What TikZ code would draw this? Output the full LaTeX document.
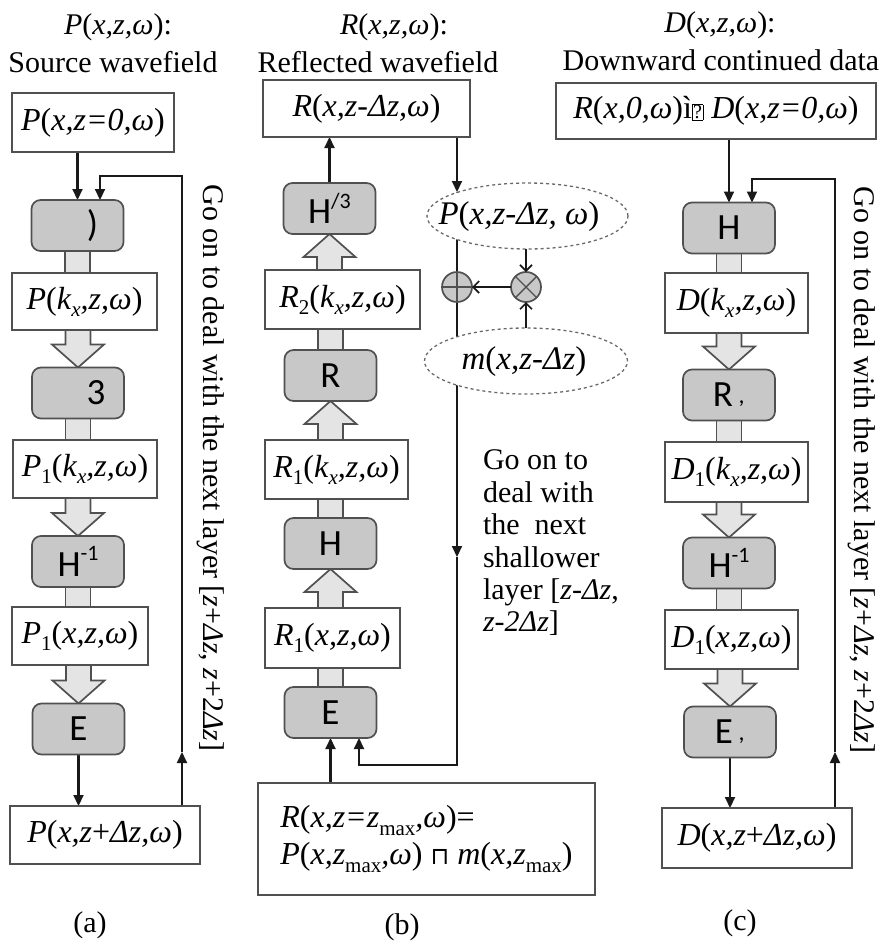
\documentclass[tikz,border=0pt]{standalone}
\usepackage{fontspec}
\setmainfont{Liberation Serif}
\newfontfamily\carl{Carlito}
\newfontfamily\dejavu{DejaVu Sans}
\usetikzlibrary{calc,arrows.meta,shapes.geometric}
\definecolor{boxc}{RGB}{80,80,80}
\definecolor{grayfill}{RGB}{200,200,200}
\definecolor{connfill}{RGB}{228,228,228}
\definecolor{linec}{RGB}{25,25,25}
\definecolor{dashc}{RGB}{105,105,105}
\pgfdeclarelayer{background}
\pgfsetlayers{background,main}
\newcommand\mi[1]{\textit{#1}}
\newcommand\sbi[1]{\raisebox{-0.22em}{\fontsize{21}{21}\selectfont\itshape #1}}
\newcommand\sbr[1]{\raisebox{-0.22em}{\fontsize{21}{21}\selectfont #1}}
\newcommand\spr[1]{\raisebox{0.42em}{\fontsize{22}{22}\selectfont #1}}
\newcommand\wdown[2]{\draw[wide] let \p1=(#1), \p2=(#2) in (\x2-12.5pt,\y1) -- (\x2-12.5pt,\y2+23pt) -- (\x2-26pt,\y2+23pt) -- (\x2,\y2) -- (\x2+26pt,\y2+23pt) -- (\x2+12.5pt,\y2+23pt) -- (\x2+12.5pt,\y1);}
\newcommand\wup[2]{\draw[wide] let \p1=(#1), \p2=(#2) in (\x2-12.5pt,\y1) -- (\x2-12.5pt,\y2-23pt) -- (\x2-26pt,\y2-23pt) -- (\x2,\y2) -- (\x2+26pt,\y2-23pt) -- (\x2+12.5pt,\y2-23pt) -- (\x2+12.5pt,\y1);}
\newcommand\wconn[2]{\draw[wide] let \p1=(#1), \p2=(#2) in (\x1-12.5pt,\y1) rectangle (\x1+12.5pt,\y2);}
\begin{document}
\begin{tikzpicture}[x=1pt,y=-1pt,
 every node/.style={inner sep=0pt, outer sep=0pt},
 ttl/.style={font=\fontsize{30}{36}\selectfont},
 tbox/.style={draw=boxc, line width=1.7pt, fill=white, font=\fontsize{32}{38}\selectfont},
 gbox/.style={draw=boxc, line width=1.7pt, fill=grayfill, rounded corners=9pt, minimum width=92pt, minimum height=51pt, font=\carl\fontsize{37}{40}\selectfont},
 arr/.style={draw=linec, line width=2.1pt, -{Triangle[length=11pt,width=10pt]}},
 wide/.style={draw=boxc, line width=1.7pt, fill=connfill},
 oarr/.style={draw=linec, line width=1.7pt, -{Straight Barb[length=6pt,width=12pt]}},
 ell/.style={ellipse, draw=dashc, dashed, line width=1.3pt, fill=white},
 sumc/.style={circle, draw=boxc, fill=grayfill, line width=1.7pt, minimum size=30pt},
 etxt/.style={font=\fontsize{33}{38}\selectfont},
 ]
\useasboundingbox (0,0) rectangle (880,946);
% ---------- titles
\node[ttl] (ta1) at (118,27) {\mi{P}(\mi{x,z,ω}):};
\node[ttl] (ta2) at (113,62) {Source wavefield};
\node[ttl] (tb1) at (394,27) {\mi{R}(\mi{x,z,ω}):};
\node[ttl] (tb2) at (378,62) {Reflected wavefield};
\node[ttl] (tc1) at (720,25) {\mi{D}(\mi{x,z,ω}):};
\node[ttl] (tc2) at (721,60) {Downward continued data};
% ---------- column a
\node[tbox, minimum width=162pt, minimum height=59pt] (a0) at (93,122.5) {\mi{P}(\mi{x,z=0,ω})};
\node[gbox] (ga1) at (77.5,225.5) {\hspace*{30pt})};
\node[tbox, minimum width=145pt, minimum height=57pt] (a1) at (84.5,301.5) {\mi{P}(\mi{k}\sbi{x}\mi{,z,ω})};
\node[gbox] (ga2) at (78,393) {\hspace*{36pt}3};
\node[tbox, minimum width=144pt, minimum height=58pt] (a2) at (85,469) {\mi{P}\sbr{1}(\mi{k}\sbi{x}\mi{,z,ω})};
\node[gbox] (ga3) at (78,561.5) {H\spr{-1}};
\node[tbox, minimum width=136pt, minimum height=58pt] (a3) at (80,636) {\mi{P}\sbr{1}(\mi{x,z,ω})};
\node[gbox] (ga4) at (78.5,729) {E};
\node[tbox, minimum width=190pt, minimum height=58pt] (a4) at (105,835) {\mi{P}(\mi{x,z}+\mi{Δz,ω})};
\coordinate (fa) at (182,176);
\coordinate (fam) at (182,752);
\node[ttl, rotate=-90] (ra) at (211,468) {Go on to deal with the next layer [\mi{z}+\mi{Δz}, \mi{z}+2\mi{Δz}]};
\node[ttl] (la) at (90,925) {(a)};
% ---------- column b
\node[tbox, minimum width=207pt, minimum height=57pt] (bt) at (366.5,108.5) {\mi{R}(\mi{x,z-Δz,ω})};
\node[gbox] (gb1) at (329.5,208.5) {H\spr{\carl/3}};
\node[tbox, minimum width=155pt, minimum height=59pt] (b2) at (342.5,299.5) {\mi{R}\sbr{2}(\mi{k}\sbi{x}\mi{,z,ω})};
\node[gbox] (gb2) at (330.5,375.5) {R};
\node[tbox, minimum width=143pt, minimum height=59pt] (b3) at (336.5,469.5) {\mi{R}\sbr{1}(\mi{k}\sbi{x}\mi{,z,ω})};
\node[gbox] (gb3) at (330.5,543.5) {H};
\node[tbox, minimum width=135pt, minimum height=60pt] (b4) at (332.5,638) {\mi{R}\sbr{1}(\mi{x,z,ω})};
\node[gbox] (gb4) at (330.5,712.5) {E};
\node[tbox, minimum width=337pt, minimum height=112pt, align=left, font=\fontsize{32}{37}\selectfont] (bb) at (426.5,839)
 {\mi{R}(\mi{x,z=z}\sbr{max}\mi{,ω})=\\ \mi{P}(\mi{x,z}\sbr{max}\mi{,ω}) {\dejavu\fontsize{24}{24}\selectfont ⊓} \mi{m}(\mi{x,z}\sbr{max})};
\node[ell, minimum width=201pt, minimum height=66pt] (ellP) at (527.5,216) {};
\node[etxt] (tP) at (519,217) {\mi{P}(\mi{x,z-Δz, ω})};
\node[ell, minimum width=203pt, minimum height=66pt] (ellM) at (526,361) {};
\node[etxt] (tM) at (524,362) {\mi{m}(\mi{x,z-Δz})};
\node[sumc] (op) at (457,287) {};
\node[sumc] (ox) at (526,287) {};
\coordinate (bP) at (457,192);
\coordinate (bA) at (457,557);
\coordinate (bC) at (457,765);
\node[ttl, anchor=north west, align=left, font=\fontsize{30}{32.4}\selectfont] (rb) at (483,450)
 {Go on to\\deal with\\the\ \ next\\shallower\\layer [\mi{z-Δz},\\\mi{z-2Δz}]};
\node[ttl] (lb) at (402,927) {(b)};
% ---------- column c
\node[tbox, minimum width=320pt, minimum height=56pt] (ct) at (716,111) {\mi{R}(\mi{x,0,ω})ì{\fboxsep=0.5pt\fboxrule=0.8pt\fontsize{20}{20}\selectfont\fbox{?}} \mi{D}(\mi{x,z=0,ω})};
\node[gbox] (gc1) at (729,228) {H};
\node[tbox, minimum width=143pt, minimum height=60pt] (c1) at (736.5,303) {\mi{D}(\mi{k}\sbi{x}\mi{,z,ω})};
\node[gbox] (gc2) at (729,395) {R\,\raisebox{0.1em}{\fontsize{24}{24}\selectfont\itshape ,}};
\node[tbox, minimum width=143pt, minimum height=60pt] (c2) at (736.5,472) {\mi{D}\sbr{1}(\mi{k}\sbi{x}\mi{,z,ω})};
\node[gbox] (gc3) at (729,563) {H\spr{-1}};
\node[tbox, minimum width=133pt, minimum height=59pt] (c3) at (731.5,639.5) {\mi{D}\sbr{1}(\mi{x,z,ω})};
\node[gbox] (gc4) at (730,732) {E\,\raisebox{0.1em}{\fontsize{24}{24}\selectfont\itshape ,}};
\node[tbox, minimum width=190pt, minimum height=60pt] (c4) at (757,838) {\mi{D}(\mi{x,z}+\mi{Δz,ω})};
\coordinate (fc) at (835,179);
\coordinate (fcm) at (835,752);
\node[ttl, rotate=-90] (rc) at (862,470) {Go on to deal with the next layer [\mi{z}+\mi{Δz}, \mi{z}+2\mi{Δz}]};
\node[ttl] (lc) at (740,923) {(c)};
% ---------- connectors
\begin{pgfonlayer}{background}
 % a
 \draw[arr] (a0.south -| ga1.north) -- (ga1.north);
 \wconn{ga1.south}{a1.north}
 \wdown{a1.south}{ga2.north}
 \wconn{ga2.south}{a2.north}
 \wdown{a2.south}{ga3.north}
 \wconn{ga3.south}{a3.north}
 \wdown{a3.south}{ga4.north}
 \draw[arr] (ga4.south) -- (ga4.south |- a4.north);
 \draw[arr] (a4.north -| fam) -- (fam);
 \draw[arr] (fam) -- (fa) -| ($(ga1.north)+(22.5,0)$);
 % b
 \draw[arr] (gb1.north) -- (gb1.north |- bt.south);
 \wup{b2.north}{gb1.south}
 \wconn{gb2.north}{b2.south}
 \wup{b3.north}{gb2.south}
 \wconn{gb3.north}{b3.south}
 \wup{b4.north}{gb3.south}
 \wconn{gb4.north}{b4.south}
 \draw[arr] (gb4.south |- bb.north) -- (gb4.south);
 \draw[arr] (bt.south -| bP) -- (bP);
 \draw[arr] (bP) -- (bA);
 \draw[arr] (bA) -- (bC) -| ($(gb4.south)+(28.5,0)$);
 % c
 \draw[arr] (ct.south -| gc1.north) -- (gc1.north);
 \wconn{gc1.south}{c1.north}
 \wdown{c1.south}{gc2.north}
 \wconn{gc2.south}{c2.north}
 \wdown{c2.south}{gc3.north}
 \wconn{gc3.south}{c3.north}
 \wdown{c3.south}{gc4.north}
 \draw[arr] (gc4.south) -- (gc4.south |- c4.north);
 \draw[arr] (c4.north -| fcm) -- (fcm);
 \draw[arr] (fcm) -- (fc) -| ($(gc1.north)+(23,0)$);
\end{pgfonlayer}
% sum / product details
\draw[draw=boxc, line width=1.4pt] (op.north) -- (op.south) (op.west) -- (op.east);
\draw[draw=boxc, line width=1.4pt] (ox.45) -- (ox.225) (ox.135) -- (ox.315);
\draw[oarr] (ox |- ellP.south) -- (ox.north);
\draw[oarr] (ox |- ellM.north) -- (ox.south);
\draw[oarr] (ox.west) -- (op.east);
\end{tikzpicture}
\end{document}
